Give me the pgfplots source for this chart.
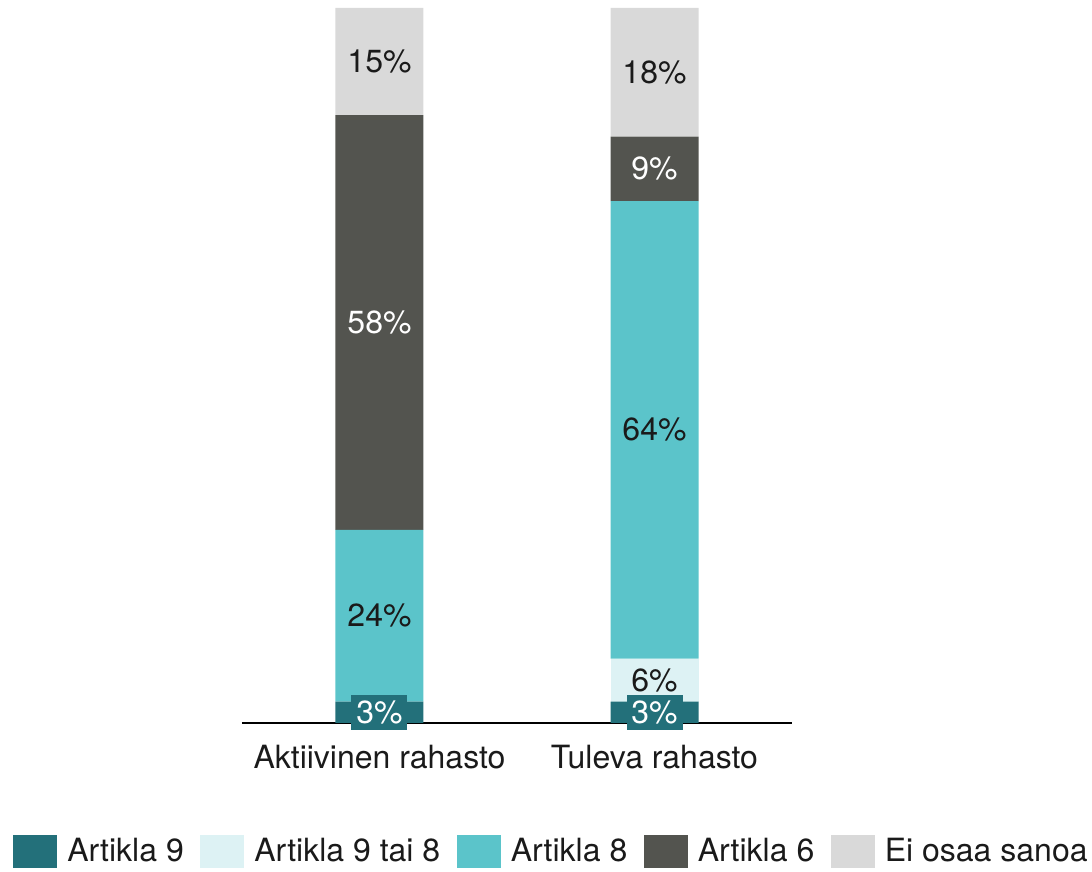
\documentclass[border=0pt]{standalone}
\usepackage{pgfplots}
\usepackage{pgfplotstable}
\pgfplotsset{compat=1.18}
\usepackage{fontspec}
\setmainfont{TeX Gyre Heros}
\definecolor{aNine}{RGB}{35,112,122}
\definecolor{aNineEight}{RGB}{221,242,244}
\definecolor{aEight}{RGB}{91,196,202}
\definecolor{aSix}{RGB}{83,84,79}
\definecolor{eos}{RGB}{217,217,217}
\definecolor{txt}{RGB}{26,26,26}
\pgfplotstableread{
x a9 a98 a8 a6 eos
0 3 0 24 58 15
1 3 6 64 9 18
}\datatable
\begin{document}
\begin{tikzpicture}
\path[use as bounding box] (-121pt,-74.5pt) rectangle (425pt,361.5pt);
\begin{axis}[
  scale only axis,
  width=275pt, height=357.5pt,
  xmin=-0.5, xmax=1.5, ymin=0, ymax=100,
  ybar stacked, bar width=44pt,
  axis x line*=bottom, axis y line=none,
  x axis line style={line width=1pt, -},
  xtick={0,1}, xticklabels={Aktiivinen rahasto, Tuleva rahasto},
  major tick length=0pt,
  xticklabel style={font=\fontsize{16}{19}\selectfont, text=txt, yshift=-7.5pt},
  ytick=\empty,
  /pgf/number format/assume math mode=true,
  legend columns=5,
  legend style={at={(0.5645,-0.180)}, anchor=center, draw=none, fill=none,
    font=\fontsize{16}{19}\selectfont, text=txt,
    /tikz/every even column/.append style={column sep=6.25pt},
    /tikz/every odd column/.append style={column sep=3pt}},
  legend image code/.code={\fill[#1] (0pt,-8.25pt) rectangle (22pt,8.25pt);},
  every node near coord/.append style={font=\fontsize{16}{19}\selectfont, anchor=center},
  nodes near coords={\ifdim\rawy pt>0pt \pgfmathprintnumber{\rawy}\%\fi},
]
\addplot[fill=aNine, draw=none, visualization depends on={\thisrow{a9} \as \rawy},
  every node near coord/.append style={fill=aNine, text=white, minimum width=28pt, minimum height=17.5pt, inner sep=0pt}]
  table[x=x, y=a9] {\datatable};
\addlegendentry{Artikla 9}
\addplot[fill=aNineEight, draw=none, visualization depends on={\thisrow{a98} \as \rawy},
  every node near coord/.append style={text=txt}]
  table[x=x, y=a98] {\datatable};
\addlegendentry{Artikla 9 tai 8}
\addplot[fill=aEight, draw=none, visualization depends on={\thisrow{a8} \as \rawy},
  every node near coord/.append style={text=txt}]
  table[x=x, y=a8] {\datatable};
\addlegendentry{Artikla 8}
\addplot[fill=aSix, draw=none, visualization depends on={\thisrow{a6} \as \rawy},
  every node near coord/.append style={text=white}]
  table[x=x, y=a6] {\datatable};
\addlegendentry{Artikla 6}
\addplot[fill=eos, draw=none, visualization depends on={\thisrow{eos} \as \rawy},
  every node near coord/.append style={text=txt}]
  table[x=x, y=eos] {\datatable};
\addlegendentry{Ei osaa sanoa}
\end{axis}
\end{tikzpicture}
\end{document}
